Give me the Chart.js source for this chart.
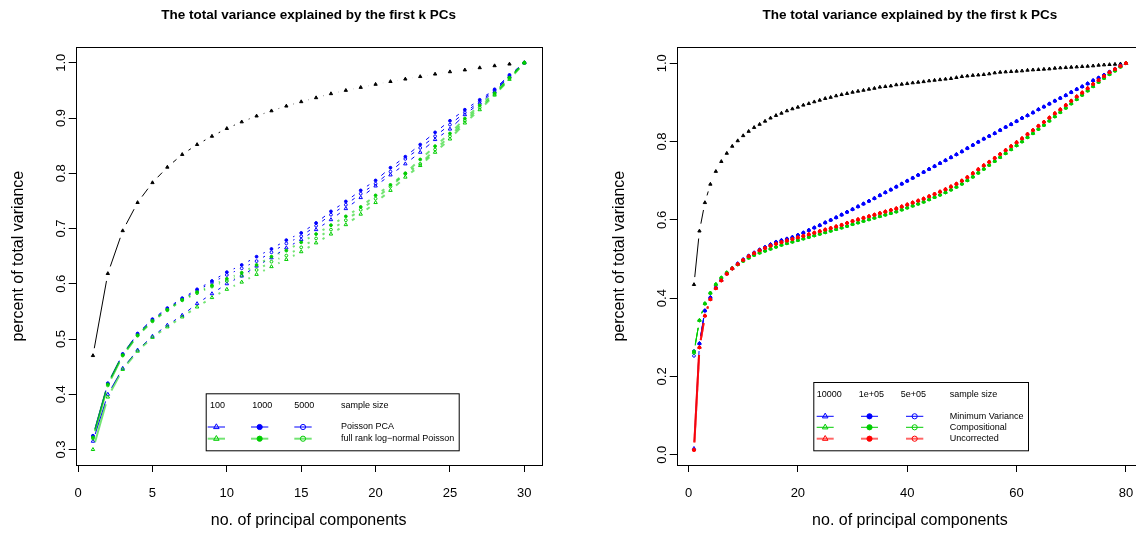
<!DOCTYPE html>
<html>
<head>
<title>Variance explained by first k PCs</title>
<style>
  body { margin: 0; background: #fff; width: 1136px; height: 536px; overflow: hidden; position: relative; }
  canvas { position: absolute; top: 0; }
  #leftChart { left: 0; }
  #rightChart { left: 568px; }
</style>
<script src="https://cdn.jsdelivr.net/npm/chart.js"></script>
</head>
<body>
<canvas id="leftChart" width="568" height="536"></canvas>
<canvas id="rightChart" width="590" height="536"></canvas>
<script>
// ---- left panel data (k = 1..30) ----
const leftK = [1,2,3,4,5,6,7,8,9,10,11,12,13,14,15,16,17,18,19,20,21,22,23,24,25,26,27,28,29,30];
const leftBlack = [0.470,0.6185,0.696,0.747,0.783,0.811,0.834,0.852,0.867,0.881,0.893,0.9036,0.913,0.9216,0.9295,
  0.9367,0.944,0.950,0.9554,0.961,0.966,0.9705,0.975,0.9795,0.9837,0.987,0.991,0.9946,0.9976,1.0];
const pca100 = [0.315,0.400,0.447,0.480,0.505,0.525,0.543,0.564,0.582,0.600,0.614,0.632,0.647,0.665,0.680,
  0.698,0.716,0.736,0.756,0.777,0.797,0.817,0.838,0.861,0.880,0.906,0.927,0.948,0.975,1.0];
const pca1000 = [0.325,0.420,0.473,0.510,0.536,0.556,0.574,0.590,0.605,0.621,0.634,0.649,0.663,0.679,0.692,
  0.710,0.731,0.749,0.769,0.787,0.810,0.830,0.852,0.874,0.895,0.915,0.933,0.952,0.978,1.0];
const pca5000 = [0.324,0.419,0.472,0.508,0.534,0.554,0.572,0.588,0.602,0.616,0.628,0.641,0.657,0.673,0.686,
  0.705,0.725,0.743,0.763,0.781,0.803,0.826,0.846,0.867,0.888,0.910,0.930,0.950,0.976,1.0];
const lnp100 = [0.300,0.395,0.445,0.478,0.503,0.522,0.540,0.558,0.575,0.590,0.603,0.617,0.631,0.644,0.658,
  0.674,0.690,0.707,0.726,0.747,0.769,0.793,0.814,0.838,0.862,0.891,0.915,0.9415,0.970,1.0];
const lnp1000 = [0.322,0.418,0.471,0.507,0.533,0.553,0.571,0.585,0.597,0.609,0.620,0.634,0.649,0.660,0.675,
  0.690,0.706,0.722,0.739,0.760,0.779,0.800,0.825,0.849,0.872,0.899,0.923,0.945,0.973,1.0];
const lnp5000 = [0.320,0.416,0.470,0.506,0.532,0.552,0.570,0.583,0.595,0.605,0.615,0.625,0.640,0.651,0.666,
  0.682,0.698,0.715,0.734,0.754,0.776,0.799,0.817,0.843,0.867,0.895,0.919,0.943,0.972,1.0];
const leftXTicks = [0,5,10,15,20,25,30];
const leftYTicks = [0.3,0.4,0.5,0.6,0.7,0.8,0.9,1.0];

// ---- right panel data (k = 1..80) ----
const rightK = [1,2,3,4,5,6,7,8,9,10,11,12,13,14,15,16,17,18,19,20,21,22,23,24,25,26,27,28,29,30,
  31,32,33,34,35,36,37,38,39,40,41,42,43,44,45,46,47,48,49,50,51,52,53,54,55,56,57,58,59,60,
  61,62,63,64,65,66,67,68,69,70,71,72,73,74,75,76,77,78,79,80];
const rightBlack = [0.4347,0.5714,0.644,0.691,0.7237,0.749,0.770,0.788,0.802,0.815,0.826,0.836,0.844,0.852,0.860,
  0.8666,0.8724,0.8785,0.8836,0.8878,0.893,0.897,0.9015,0.9056,0.910,0.913,0.9168,0.920,0.9227,0.926,
  0.9286,0.931,0.9337,0.936,0.939,0.9405,0.942,0.945,0.9464,0.948,0.950,0.9515,0.953,0.955,0.9566,
  0.958,0.9595,0.961,0.9635,0.966,0.9675,0.969,0.970,0.9712,0.9729,0.9754,0.9771,0.978,0.9788,0.9797,
  0.9805,0.9822,0.9831,0.9839,0.9848,0.9856,0.9873,0.9882,0.989,0.9899,0.9907,0.9916,0.9924,0.9933,0.995,
  0.9958,0.9967,0.9975,0.9984,1.0];
const minVar = [0.2526,0.284,0.368,0.4015,0.427,0.446,0.463,0.476,0.488,0.4985,0.508,0.516,0.5235,0.530,0.537,
  0.5435,0.5475,0.5515,0.5555,0.561,0.567,0.5735,0.580,0.586,0.593,0.5995,0.606,0.613,0.620,0.627,
  0.634,0.641,0.648,0.655,0.6625,0.670,0.677,0.6845,0.692,0.6995,0.707,0.7145,0.722,0.7295,0.737,
  0.7445,0.752,0.7595,0.767,0.7745,0.783,0.791,0.799,0.807,0.814,0.821,0.829,0.837,0.844,0.852,
  0.860,0.8666,0.874,0.882,0.889,0.8964,0.904,0.911,0.918,0.926,0.9337,0.9405,0.948,0.956,0.9628,
  0.970,0.978,0.9856,0.994,1.0];
const compositional = [0.262,0.343,0.386,0.413,0.435,0.452,0.465,0.476,0.486,0.495,0.503,0.510,0.516,0.521,0.526,
  0.531,0.536,0.540,0.544,0.548,0.552,0.556,0.560,0.564,0.568,0.572,0.576,0.580,0.584,0.589,
  0.593,0.597,0.601,0.605,0.609,0.613,0.617,0.621,0.626,0.631,0.636,0.641,0.646,0.652,0.658,
  0.664,0.670,0.677,0.684,0.692,0.701,0.710,0.720,0.730,0.740,0.750,0.760,0.770,0.780,0.790,
  0.800,0.811,0.821,0.832,0.842,0.853,0.864,0.875,0.886,0.897,0.908,0.919,0.930,0.941,0.952,
  0.962,0.972,0.981,0.991,1.0];
const uncorrected = [0.012,0.274,0.355,0.397,0.425,0.445,0.462,0.4755,0.487,0.4975,0.507,0.5145,0.522,0.528,0.534,
  0.539,0.543,0.547,0.551,0.555,0.559,0.563,0.567,0.571,0.575,0.579,0.583,0.587,0.592,0.597,
  0.601,0.605,0.609,0.613,0.617,0.621,0.625,0.629,0.634,0.639,0.644,0.649,0.654,0.660,0.666,
  0.672,0.678,0.685,0.692,0.700,0.709,0.719,0.729,0.739,0.748,0.758,0.768,0.778,0.788,0.798,
  0.808,0.819,0.829,0.840,0.850,0.861,0.872,0.882,0.893,0.904,0.915,0.925,0.936,0.947,0.957,
  0.967,0.977,0.985,0.993,1.0];
// first-component value for the 10000 / 1e+05 / 5e+05 runs (they only differ there)
const minVarFirst = [0.016, 0.2645, 0.2526];
const compositionalFirst = [0.262, 0.264, 0.260];
const uncorrectedFirst = [0.012, 0.012, 0.013];
const rightXTicks = [0,20,40,60,80];
const rightYTicks = [0.0,0.2,0.4,0.6,0.8,1.0];

const FONT = '"Liberation Sans", Arial, Helvetica, sans-serif';
Chart.defaults.font.family = FONT;
Chart.defaults.color = '#000';

// R type="b": line segments stop short of the points
const GAP = 7.5;
function gapped() {
  return {
    borderDash: ctx => {
      const L = Math.hypot(ctx.p1.x - ctx.p0.x, ctx.p1.y - ctx.p0.y);
      const u = ctx.p0DataIndex * 1e-4;
      if (L <= 2 * GAP) return [0, L + 20 + u];
      return [0, GAP, L - 2 * GAP, GAP + 20 + u];
    }
  };
}

const TRI = {style: 'triangle', fill: false, r: 2};
const DOT = {style: 'circle', fill: true, r: 1.4};
const RING = {style: 'circle', fill: false, r: 1.4};

function series(xs, ys, color, line, lw, shape) {
  return {
    data: xs.map((x, i) => ({x: x, y: ys[i]})),
    borderColor: line,
    borderWidth: lw,
    pointStyle: shape.style,
    pointRadius: shape.r,
    pointBorderColor: color,
    pointBackgroundColor: shape.fill ? color : 'rgba(0,0,0,0)',
    pointBorderWidth: 1,
    segment: gapped()
  };
}
function blackSeries(xs, ys) {
  return {
    data: xs.map((x, i) => ({x: x, y: ys[i]})),
    borderColor: '#000', borderWidth: 1,
    pointStyle: 'triangle', pointRadius: 1.9,
    pointBorderColor: '#000', pointBackgroundColor: '#000', pointBorderWidth: 1,
    segment: gapped()
  };
}
function withFirst(ys, first) {
  return [first].concat(ys.slice(1));
}

function drawLegend(ctx, L) {
  ctx.save();
  ctx.strokeStyle = '#000';
  ctx.lineWidth = 1;
  ctx.strokeRect(L.box[0] + 0.5, L.box[1] + 0.5, L.box[2], L.box[3]);
  ctx.font = '9px ' + FONT;
  ctx.fillStyle = '#000';
  ctx.textAlign = 'left';
  ctx.textBaseline = 'middle';
  L.heads.forEach((t, i) => ctx.fillText(t, L.headX[i], L.headY));
  L.rows.forEach((row, r) => {
    const y = L.rowY[r];
    L.cols.forEach((c, j) => {
      ctx.strokeStyle = row.line;
      ctx.lineWidth = row.lw;
      ctx.beginPath(); ctx.moveTo(c[0], y); ctx.lineTo(c[1], y); ctx.stroke();
      const s = L.shapes[j];
      ctx.strokeStyle = row.color;
      ctx.fillStyle = s.fill ? row.color : 'rgba(0,0,0,0)';
      ctx.lineWidth = 1;
      Chart.helpers.drawPoint(ctx, {pointStyle: s.style, radius: s.r + 1.2, rotation: 0, borderWidth: 1}, (c[0] + c[1]) / 2, y);
    });
    ctx.fillStyle = '#000';
    ctx.fillText(row.label, L.labelX, y);
  });
  ctx.restore();
}

const framePlugin = {
  id: 'frame',
  afterDraw(chart, args, opts) {
    const {ctx, chartArea: a} = chart;
    ctx.save();
    ctx.strokeStyle = '#000';
    ctx.lineWidth = 1;
    ctx.strokeRect(Math.round(a.left) + 0.5, Math.round(a.top) + 0.5,
      Math.round(a.right - a.left), Math.round(a.bottom - a.top));
    ctx.font = 'bold 13.5px ' + FONT;
    ctx.fillStyle = '#000';
    ctx.textAlign = 'center';
    ctx.textBaseline = 'middle';
    ctx.fillText(opts.title, (a.left + a.right) / 2, 15);
    ctx.restore();
    drawLegend(ctx, opts.legend);
  }
};

function makeOptions(o) {
  return {
    responsive: false,
    devicePixelRatio: 1,
    animation: false,
    events: [],
    layout: {padding: {top: 47.3, right: o.padRight, bottom: 0, left: 0}},
    plugins: {
      legend: {display: false},
      tooltip: {enabled: false},
      frame: {title: 'The total variance explained by the first k PCs', legend: o.legend}
    },
    scales: {
      x: {
        type: 'linear', min: o.xMin, max: o.xMax,
        afterBuildTicks: s => { s.ticks = o.xTicks.map(v => ({value: v})); },
        afterFit: s => { s.height = 71; },
        grid: {display: true, drawOnChartArea: false, drawTicks: true, tickLength: 7, color: '#000'},
        border: {display: false},
        ticks: {font: {size: 13}, padding: 14, maxRotation: 0, autoSkip: false, callback: v => String(v)},
        title: {display: true, text: 'no. of principal components', font: {size: 16}, padding: {top: 0, bottom: 5.4}}
      },
      y: {
        type: 'linear', min: o.yMin, max: o.yMax,
        afterBuildTicks: s => { s.ticks = o.yTicks.map(v => ({value: v})); },
        afterFit: s => { s.width = o.yWidth; },
        grid: {display: true, drawOnChartArea: false, drawTicks: true, tickLength: 7, color: '#000'},
        border: {display: false},
        ticks: {font: {size: 13}, padding: -1.5, minRotation: 90, maxRotation: 90, crossAlign: 'center',
          autoSkip: false, callback: v => Number(v).toFixed(1)},
        title: {display: true, text: 'percent of total variance', font: {size: 16}, padding: {top: o.yTitlePad, bottom: 0}}
      }
    }
  };
}

// ---- left chart ----
const BLUE = '#0000FF', GREEN = '#00CD00', RED = '#FF0000';
const GREEN_LINE = 'rgba(0,205,0,0.55)', RED_LINE = 'rgba(255,0,0,0.6)';

new Chart(document.getElementById('leftChart'), {
  type: 'line',
  data: {
    datasets: [
      series(leftK, lnp5000, GREEN, GREEN_LINE, 2, RING),
      series(leftK, lnp1000, GREEN, GREEN_LINE, 2, DOT),
      series(leftK, lnp100, GREEN, GREEN_LINE, 2, TRI),
      series(leftK, pca5000, BLUE, BLUE, 1, RING),
      series(leftK, pca1000, BLUE, BLUE, 1, DOT),
      series(leftK, pca100, BLUE, BLUE, 1, TRI),
      blackSeries(leftK, leftBlack)
    ]
  },
  options: makeOptions({
    xMin: -0.16, xMax: 31.16, yMin: 0.272, yMax: 1.028,
    xTicks: leftXTicks, yTicks: leftYTicks,
    yWidth: 75.7, padRight: 26.4, yTitlePad: 8.9,
    legend: {
      box: [205.7, 393.3, 253, 57],
      heads: ['100', '1000', '5000', 'sample size'],
      headX: [210, 252.3, 294.3, 341], headY: 405.7,
      cols: [[207.7, 225], [251, 268.3], [294.3, 311.7]],
      shapes: [TRI, DOT, RING],
      rowY: [427, 438.7], labelX: 341,
      rows: [
        {label: 'Poisson PCA', color: BLUE, line: BLUE, lw: 1},
        {label: 'full rank log\u2212normal Poisson', color: GREEN, line: GREEN_LINE, lw: 2}
      ]
    }
  }),
  plugins: [framePlugin]
});

// ---- right chart ----
new Chart(document.getElementById('rightChart'), {
  type: 'line',
  data: {
    datasets: [
      series(rightK, withFirst(uncorrected, uncorrectedFirst[2]), RED, RED_LINE, 2, RING),
      series(rightK, withFirst(uncorrected, uncorrectedFirst[1]), RED, RED_LINE, 2, DOT),
      series(rightK, withFirst(uncorrected, uncorrectedFirst[0]), RED, RED_LINE, 2, TRI),
      series(rightK, withFirst(compositional, compositionalFirst[2]), GREEN, GREEN, 1, RING),
      series(rightK, withFirst(compositional, compositionalFirst[1]), GREEN, GREEN, 1, DOT),
      series(rightK, withFirst(compositional, compositionalFirst[0]), GREEN, GREEN, 1, TRI),
      series(rightK, withFirst(minVar, minVarFirst[2]), BLUE, BLUE, 1, RING),
      series(rightK, withFirst(minVar, minVarFirst[1]), BLUE, BLUE, 1, DOT),
      series(rightK, withFirst(minVar, minVarFirst[0]), BLUE, BLUE, 1, TRI),
      blackSeries(rightK, rightBlack)
    ]
  },
  options: makeOptions({
    xMin: -2.16, xMax: 83.16, yMin: -0.0263, yMax: 1.0408,
    xTicks: rightXTicks, yTicks: rightYTicks,
    yWidth: 108.7, padRight: 14.8, yTitlePad: 42.4,
    legend: {
      box: [245.3, 382, 214.7, 68.3],
      heads: ['10000', '1e+05', '5e+05', 'sample size'],
      headX: [248.7, 290.7, 332.7, 381.7], headY: 394.7,
      cols: [[248.7, 265.7], [293, 310], [338, 355.3]],
      shapes: [TRI, DOT, RING],
      rowY: [416.3, 427.3, 438.7], labelX: 381.7,
      rows: [
        {label: 'Minimum Variance', color: BLUE, line: BLUE, lw: 1},
        {label: 'Compositional', color: GREEN, line: GREEN, lw: 1},
        {label: 'Uncorrected', color: RED, line: RED_LINE, lw: 2}
      ]
    }
  }),
  plugins: [framePlugin]
});
</script>
</body>
</html>
